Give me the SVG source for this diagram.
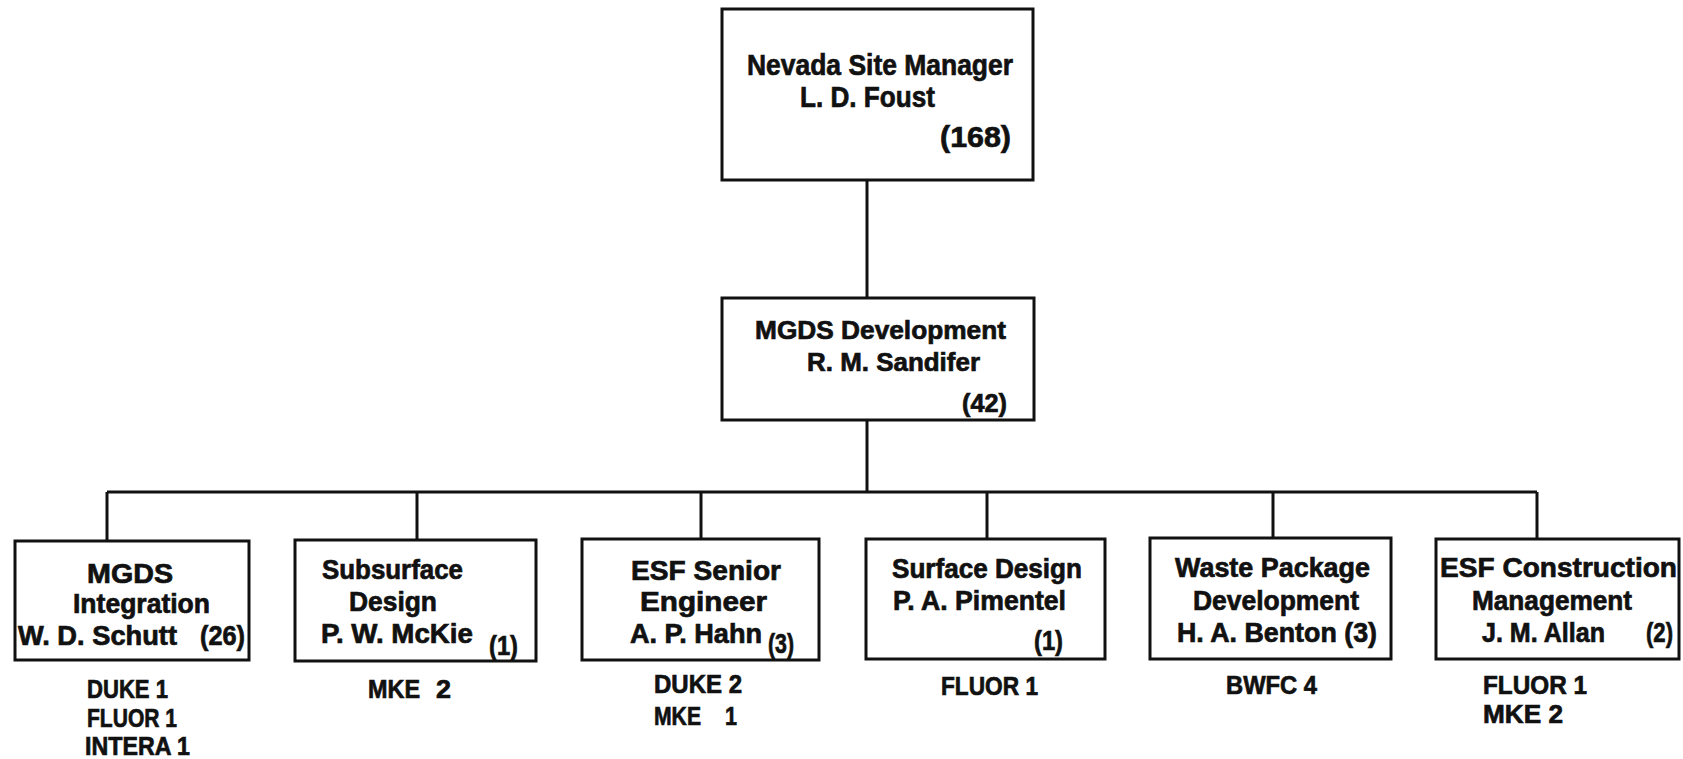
<svg xmlns="http://www.w3.org/2000/svg" width="1683" height="759" viewBox="0 0 1683 759">
<style>
.bx{fill:#fff;stroke:#111;stroke-width:3}
.ln{fill:none;stroke:#111;stroke-width:3}
text{font-family:"Liberation Sans",Arial,Helvetica,sans-serif;font-weight:bold;fill:#111;stroke:#111;stroke-width:0.7}
.t1{font-size:30px}
.t2{font-size:26px}
.t3{font-size:27px}
.t4{font-size:26px}
</style>
<rect width="1683" height="759" fill="#fff"/>
<g id="connectors">
<path class="ln" d="M867 180V298M867 420V492M107 492H1537M107 492V541M417 492V540M701 492V539M987 492V539M1273 492V538M1537 492V539"/>
</g>
<g id="n-site-manager">
<rect class="bx" x="722" y="9" width="311" height="171"/>
<text class="t1" x="747" y="75" textLength="266" lengthAdjust="spacingAndGlyphs">Nevada Site Manager</text>
<text class="t1" x="800" y="107" textLength="135" lengthAdjust="spacingAndGlyphs">L. D. Foust</text>
<text class="t1" x="940" y="147" textLength="71" lengthAdjust="spacingAndGlyphs">(168)</text>
</g>
<g id="n-mgds-dev">
<rect class="bx" x="722" y="298" width="312" height="122"/>
<text class="t2" x="755" y="339" textLength="251" lengthAdjust="spacingAndGlyphs">MGDS Development</text>
<text class="t2" x="807" y="371" textLength="173" lengthAdjust="spacingAndGlyphs">R. M. Sandifer</text>
<text class="t2" x="962" y="412" textLength="45" lengthAdjust="spacingAndGlyphs">(42)</text>
</g>
<g id="n-integration">
<rect class="bx" x="15" y="541" width="234" height="119"/>
<text class="t3" x="87" y="583" textLength="86" lengthAdjust="spacingAndGlyphs">MGDS</text>
<text class="t3" x="73" y="613" textLength="137" lengthAdjust="spacingAndGlyphs">Integration</text>
<text class="t3" x="18" y="645" textLength="159" lengthAdjust="spacingAndGlyphs">W. D. Schutt</text>
<text class="t3" x="200" y="645" textLength="45" lengthAdjust="spacingAndGlyphs">(26)</text>
<text class="t4" x="87" y="698" textLength="81" lengthAdjust="spacingAndGlyphs">DUKE 1</text>
<text class="t4" x="87" y="727" textLength="90" lengthAdjust="spacingAndGlyphs">FLUOR 1</text>
<text class="t4" x="85" y="755" textLength="105" lengthAdjust="spacingAndGlyphs">INTERA 1</text>
</g>
<g id="n-subsurface">
<rect class="bx" x="295" y="540" width="241" height="121"/>
<text class="t3" x="322" y="579" textLength="141" lengthAdjust="spacingAndGlyphs">Subsurface</text>
<text class="t3" x="349" y="611" textLength="88" lengthAdjust="spacingAndGlyphs">Design</text>
<text class="t3" x="321" y="643" textLength="152" lengthAdjust="spacingAndGlyphs">P. W. McKie</text>
<text class="t3" x="489" y="655" textLength="29" lengthAdjust="spacingAndGlyphs">(1)</text>
<text class="t4" x="368" y="698" textLength="52" lengthAdjust="spacingAndGlyphs">MKE</text>
<text class="t4" x="436" y="698" textLength="15" lengthAdjust="spacingAndGlyphs">2</text>
</g>
<g id="n-esf-senior">
<rect class="bx" x="582" y="539" width="237" height="121"/>
<text class="t3" x="631" y="580" textLength="150" lengthAdjust="spacingAndGlyphs">ESF Senior</text>
<text class="t3" x="640" y="611" textLength="127" lengthAdjust="spacingAndGlyphs">Engineer</text>
<text class="t3" x="630" y="643" textLength="132" lengthAdjust="spacingAndGlyphs">A. P. Hahn</text>
<text class="t3" x="768" y="653" textLength="26" lengthAdjust="spacingAndGlyphs">(3)</text>
<text class="t4" x="654" y="693" textLength="88" lengthAdjust="spacingAndGlyphs">DUKE 2</text>
<text class="t4" x="654" y="725" textLength="47" lengthAdjust="spacingAndGlyphs">MKE</text>
<text class="t4" x="725" y="725" textLength="12" lengthAdjust="spacingAndGlyphs">1</text>
</g>
<g id="n-surface">
<rect class="bx" x="866" y="539" width="239" height="120"/>
<text class="t3" x="892" y="578" textLength="190" lengthAdjust="spacingAndGlyphs">Surface Design</text>
<text class="t3" x="893" y="610" textLength="173" lengthAdjust="spacingAndGlyphs">P. A. Pimentel</text>
<text class="t3" x="1034" y="650" textLength="29" lengthAdjust="spacingAndGlyphs">(1)</text>
<text class="t4" x="941" y="695" textLength="97" lengthAdjust="spacingAndGlyphs">FLUOR 1</text>
</g>
<g id="n-waste-package">
<rect class="bx" x="1150" y="538" width="241" height="121"/>
<text class="t3" x="1175" y="577" textLength="195" lengthAdjust="spacingAndGlyphs">Waste Package</text>
<text class="t3" x="1193" y="610" textLength="166" lengthAdjust="spacingAndGlyphs">Development</text>
<text class="t3" x="1177" y="642" textLength="200" lengthAdjust="spacingAndGlyphs">H. A. Benton (3)</text>
<text class="t4" x="1226" y="694" textLength="91" lengthAdjust="spacingAndGlyphs">BWFC 4</text>
</g>
<g id="n-esf-construction">
<rect class="bx" x="1436" y="539" width="243" height="120"/>
<text class="t3" x="1440" y="577" textLength="237" lengthAdjust="spacingAndGlyphs">ESF Construction</text>
<text class="t3" x="1472" y="610" textLength="160" lengthAdjust="spacingAndGlyphs">Management</text>
<text class="t3" x="1482" y="642" textLength="123" lengthAdjust="spacingAndGlyphs">J. M. Allan</text>
<text class="t3" x="1646" y="642" textLength="27" lengthAdjust="spacingAndGlyphs">(2)</text>
<text class="t4" x="1483" y="694" textLength="104" lengthAdjust="spacingAndGlyphs">FLUOR 1</text>
<text class="t4" x="1483" y="723" textLength="80" lengthAdjust="spacingAndGlyphs">MKE 2</text>
</g>
</svg>
